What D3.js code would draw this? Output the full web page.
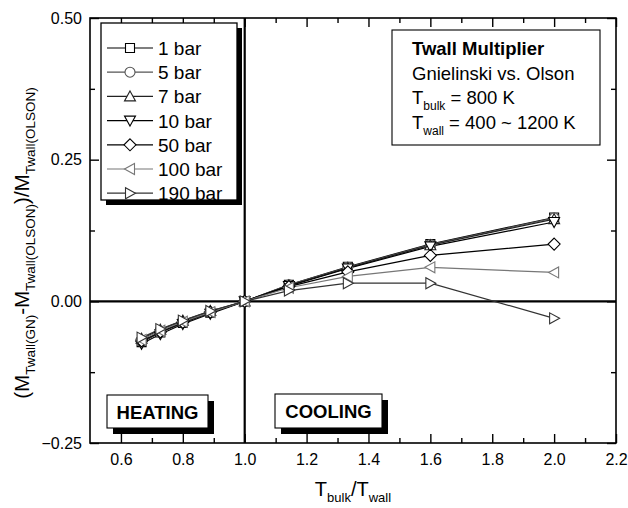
<!DOCTYPE html>
<html><head><meta charset="utf-8">
<script src="https://cdn.jsdelivr.net/npm/d3@7"></script>
<style>
html,body{margin:0;padding:0;background:#fff;}
svg text{font-family:"Liberation Sans",Arial,sans-serif;fill:#000;}
</style></head>
<body><svg id="c" width="628" height="508"></svg>
<script>
// ---- data ----
const ratio = [0.6667, 0.7273, 0.8, 0.8889, 1.0, 1.1429, 1.3333, 1.6, 2.0]; // Tbulk/Twall
const bar1   = [-0.072, -0.055, -0.038, -0.020, 0, 0.029, 0.061, 0.101, 0.148];
const bar5   = [-0.071, -0.054, -0.037, -0.019, 0, 0.029, 0.060, 0.100, 0.147];
const bar7   = [-0.066, -0.050, -0.034, -0.017, 0, 0.028, 0.059, 0.099, 0.145];
const bar10  = [-0.075, -0.058, -0.040, -0.022, 0, 0.027, 0.058, 0.097, 0.140];
const bar50  = [-0.070, -0.054, -0.037, -0.019, 0, 0.026, 0.052, 0.081, 0.101];
const bar100 = [-0.068, -0.052, -0.036, -0.019, 0, 0.024, 0.044, 0.060, 0.051];
const bar190 = [-0.064, -0.049, -0.034, -0.017, 0, 0.019, 0.032, 0.032, -0.030];
const seriesLabels = ["1 bar", "5 bar", "7 bar", "10 bar", "50 bar", "100 bar", "190 bar"];
const seriesValues = [bar1, bar5, bar7, bar10, bar50, bar100, bar190];
const seriesMarkers = ["square", "circle", "up", "down", "diamond", "left", "right"];
const seriesColors = ["#000", "#555", "#222", "#000", "#000", "#777", "#333"];
const xMajorTicks = [0.6, 0.8, 1.0, 1.2, 1.4, 1.6, 1.8, 2.0, 2.2];
const xMinorTicks = [0.7, 0.9, 1.1, 1.3, 1.5, 1.7, 1.9, 2.1];
const yMajorTicks = [-0.25, 0, 0.25, 0.5];
const yMinorTicks = [-0.125, 0.125, 0.375];
const noteLines = ["Twall Multiplier", "Gnielinski vs. Olson"];

// ---- layout ----
const svg = d3.select("#c");
const L = 90, R = 616, T = 18, B = 443;
const x = d3.scaleLinear().domain([0.5, 2.2]).range([L, R]);
const y = d3.scaleLinear().domain([-0.25, 0.5]).range([B, T]);

const markerPath = {
  square: "M-4.5,-4.5H4.5V4.5H-4.5Z",
  circle: "M5,0A5,5 0 1,1 -5,0A5,5 0 1,1 5,0Z",
  up: "M0,-5.5L5.5,4.5L-5.5,4.5Z",
  down: "M0,5.5L5.5,-4.5L-5.5,-4.5Z",
  diamond: "M0,-6L6,0L0,6L-6,0Z",
  left: "M-5.5,0L4.5,-5.5L4.5,5.5Z",
  right: "M5.5,0L-4.5,-5.5L-4.5,5.5Z"
};

// frame
svg.append("rect").attr("x", L).attr("y", T).attr("width", R - L).attr("height", B - T)
  .attr("fill", "none").attr("stroke", "#000").attr("stroke-width", 1.6);

// axes (ticks inward)
const fmtX = d3.format(".1f"), fmtY = d3.format(".2f");
function axisGroup(axisFn, scale, ticks, size, labels, fmt, transform) {
  const a = axisFn(scale).tickValues(ticks).tickSizeInner(-size).tickSizeOuter(0).tickPadding(12);
  if (labels) a.tickFormat(fmt); else a.tickFormat("");
  const g = svg.append("g").attr("transform", transform).call(a);
  g.select(".domain").remove();
  g.selectAll("line").attr("stroke", "#000").attr("stroke-width", 1.4);
  g.selectAll("text").style("font-size", "16px").attr("fill", "#000");
  return g;
}
axisGroup(d3.axisBottom, x, xMajorTicks, 9, true, fmtX, `translate(0,${B})`);
axisGroup(d3.axisBottom, x, xMinorTicks, 5, false, null, `translate(0,${B})`);
axisGroup(d3.axisTop, x, xMajorTicks, -9, false, null, `translate(0,${T})`).selectAll("line").attr("y2", 9);
axisGroup(d3.axisTop, x, xMinorTicks, -5, false, null, `translate(0,${T})`).selectAll("line").attr("y2", 5);
const yl = axisGroup(d3.axisLeft, y, yMajorTicks, 9, true, fmtY, `translate(${L},0)`);
yl.selectAll("text").attr("x", -8);
axisGroup(d3.axisLeft, y, yMinorTicks, 5, false, null, `translate(${L},0)`);
axisGroup(d3.axisRight, y, yMajorTicks, 9, false, null, `translate(${R},0)`);
axisGroup(d3.axisRight, y, yMinorTicks, 5, false, null, `translate(${R},0)`);
svg.selectAll(".tick text").filter(function(){return d3.select(this.parentNode.parentNode).attr("transform") === `translate(0,${B})`;}).attr("dy", "0.71em").attr("y", 11);

// reference lines
svg.append("line").attr("x1", x(1.0)).attr("x2", x(1.0)).attr("y1", T).attr("y2", B)
  .attr("stroke", "#000").attr("stroke-width", 2.2);
svg.append("line").attr("x1", L).attr("x2", R).attr("y1", y(0)).attr("y2", y(0))
  .attr("stroke", "#000").attr("stroke-width", 2.2);

// series
const line = d3.line().x((d, i) => x(ratio[i])).y(d => y(d));
seriesValues.forEach((vals, s) => {
  svg.append("path").attr("d", line(vals)).attr("fill", "none")
    .attr("stroke", seriesColors[s]).attr("stroke-width", 1.2);
});
seriesValues.forEach((vals, s) => {
  svg.append("g").selectAll("path").data(vals).join("path")
    .attr("d", markerPath[seriesMarkers[s]])
    .attr("transform", (d, i) => `translate(${x(ratio[i])},${y(d)})`)
    .attr("fill", "#fff").attr("stroke", seriesColors[s]).attr("stroke-width", 1.1);
});

// legend
const lg = svg.append("g");
lg.append("rect").attr("x", 106).attr("y", 28).attr("width", 136).attr("height", 177).attr("fill", "#000");
lg.append("rect").attr("x", 101).attr("y", 23).attr("width", 136).attr("height", 177)
  .attr("fill", "#fff").attr("stroke", "#000").attr("stroke-width", 1.3);
seriesLabels.forEach((lab, s) => {
  const cy = 48 + s * 24.2;
  lg.append("line").attr("x1", 107).attr("x2", 153).attr("y1", cy).attr("y2", cy)
    .attr("stroke", seriesColors[s]).attr("stroke-width", 1.2);
  lg.append("path").attr("d", markerPath[seriesMarkers[s]]).attr("transform", `translate(130,${cy})`)
    .attr("fill", "#fff").attr("stroke", seriesColors[s]).attr("stroke-width", 1.1);
  lg.append("text").attr("x", 158).attr("y", cy + 7).style("font-size", "19px").text(lab);
});

// annotation box
const nb = svg.append("g");
nb.append("rect").attr("x", 392).attr("y", 30).attr("width", 208).attr("height", 115)
  .attr("fill", "#fff").attr("stroke", "#000").attr("stroke-width", 1.1);
nb.append("text").attr("x", 412).attr("y", 55).style("font-size", "18.5px").style("font-weight", "bold").text(noteLines[0]);
nb.append("text").attr("x", 412).attr("y", 79.5).style("font-size", "18.5px").text(noteLines[1]);
const t3 = nb.append("text").attr("x", 412).attr("y", 104).style("font-size", "18.5px");
t3.append("tspan").text("T");
t3.append("tspan").attr("dy", 6).style("font-size", "12px").text("bulk");
t3.append("tspan").attr("dy", -6).text(" = 800 K");
const t4 = nb.append("text").attr("x", 412).attr("y", 128.5).style("font-size", "18.5px");
t4.append("tspan").text("T");
t4.append("tspan").attr("dy", 6).style("font-size", "12px").text("wall");
t4.append("tspan").attr("dy", -6).text(" = 400 ~ 1200 K");

// heating / cooling boxes
function tagBox(x0, y0, w, h, label) {
  svg.append("rect").attr("x", x0 + 6).attr("y", y0 + 6).attr("width", w).attr("height", h).attr("fill", "#000");
  svg.append("rect").attr("x", x0).attr("y", y0).attr("width", w).attr("height", h)
    .attr("fill", "#fff").attr("stroke", "#000").attr("stroke-width", 1.1);
  svg.append("text").attr("x", x0 + w / 2).attr("y", y0 + h / 2 + 7).attr("text-anchor", "middle")
    .style("font-size", "18.5px").style("font-weight", "bold").text(label);
}
tagBox(107, 395, 101, 33, "HEATING");
tagBox(275, 394, 107, 34, "COOLING");

// axis titles
const xt = svg.append("text").attr("x", (L + R) / 2).attr("y", 496).attr("text-anchor", "middle").style("font-size", "20px");
xt.append("tspan").text("T");
xt.append("tspan").attr("dy", 6).style("font-size", "13px").text("bulk");
xt.append("tspan").attr("dy", -6).text("/T");
xt.append("tspan").attr("dy", 6).style("font-size", "13px").text("wall");

const ytl = svg.append("text").attr("transform", "translate(29,243) rotate(-90)").attr("text-anchor", "middle").style("font-size", "20.5px");
ytl.append("tspan").text("(M");
ytl.append("tspan").attr("dy", 6).style("font-size", "13.5px").text("Twall(GN)");
ytl.append("tspan").attr("dy", -6).text("-M");
ytl.append("tspan").attr("dy", 6).style("font-size", "13.5px").text("Twall(OLSON)");
ytl.append("tspan").attr("dy", -6).text(")/M");
ytl.append("tspan").attr("dy", 6).style("font-size", "13.5px").text("Twall(OLSON)");
</script></body></html>
